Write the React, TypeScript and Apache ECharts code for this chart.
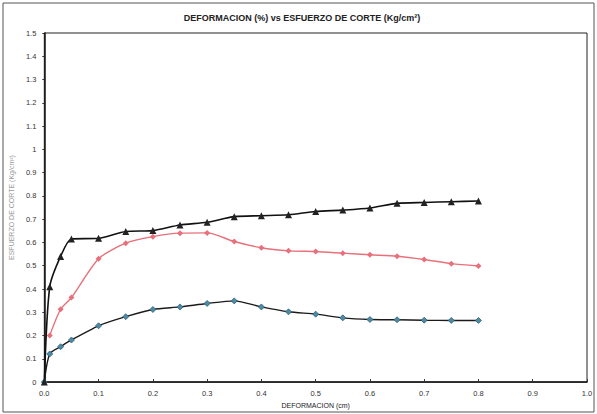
import React, { useEffect, useRef } from "react";
import * as echarts from "echarts";

const titleText = "DEFORMACION (%) vs ESFUERZO DE CORTE (Kg/cm²)";
const xTitle = "DEFORMACION (cm)";
const yTitle = "ESFUERZO DE CORTE (Kg/cm²)";

const blackX = [0, 0.01, 0.03, 0.05, 0.1, 0.15, 0.2, 0.25, 0.3, 0.35, 0.4, 0.45, 0.5, 0.55, 0.6, 0.65, 0.7, 0.75, 0.8];
const blackY = [0, 0.41, 0.54, 0.615, 0.618, 0.647, 0.651, 0.675, 0.687, 0.711, 0.715, 0.719, 0.733, 0.739, 0.748, 0.768, 0.772, 0.775, 0.778];

const redX = [0.01, 0.03, 0.05, 0.1, 0.15, 0.2, 0.25, 0.3, 0.35, 0.4, 0.45, 0.5, 0.55, 0.6, 0.65, 0.7, 0.75, 0.8];
const redY = [0.2, 0.313, 0.363, 0.53, 0.597, 0.625, 0.64, 0.641, 0.604, 0.577, 0.564, 0.561, 0.554, 0.547, 0.541, 0.527, 0.509, 0.499];

const blueX = [0, 0.01, 0.03, 0.05, 0.1, 0.15, 0.2, 0.25, 0.3, 0.35, 0.4, 0.45, 0.5, 0.55, 0.6, 0.65, 0.7, 0.75, 0.8];
const blueY = [0, 0.121, 0.152, 0.181, 0.242, 0.281, 0.312, 0.323, 0.338, 0.349, 0.323, 0.302, 0.292, 0.276, 0.269, 0.268, 0.266, 0.265, 0.265];

const zip = (xs: number[], ys: number[]) => xs.map((x, i) => [x, ys[i]]);

const FONT = "'Liberation Sans Narrow', 'Liberation Sans', Arial, sans-serif";

export default function App() {
  const ref = useRef<HTMLDivElement>(null);
  useEffect(() => {
    if (!ref.current) return;
    const chart = echarts.init(ref.current, null, { renderer: "svg" });
    chart.setOption({
      animation: false,
      backgroundColor: "#ffffff",
      title: {
        text: titleText,
        left: 297,
        top: 8,
        textAlign: "center",
        textStyle: { fontFamily: FONT, fontSize: 9, fontWeight: "bold", color: "#222" },
      },
      graphic: [
        {
          type: "rect",
          shape: { x: 3, y: 3, width: 591, height: 409 },
          style: { fill: "none", stroke: "#555", lineWidth: 1 },
          silent: true,
        },
      ],
      grid: {
        left: 42,
        right: 10,
        top: 33,
        bottom: 30,
        show: true,
        borderColor: "#222",
        borderWidth: 1,
        backgroundColor: "transparent",
      },
      xAxis: {
        type: "value",
        min: 0,
        max: 1,
        interval: 0.1,
        name: xTitle,
        nameLocation: "middle",
        nameGap: 19,
        nameTextStyle: { fontFamily: FONT, fontSize: 7, color: "#222" },
        axisLine: { show: true, lineStyle: { color: "#111", width: 1.5 } },
        axisTick: { show: true, inside: true, length: 3, lineStyle: { color: "#333" } },
        axisLabel: {
          fontFamily: FONT,
          fontSize: 7.5,
          color: "#333",
          margin: 7,
          formatter: (v: number) => v.toFixed(1),
        },
        splitLine: { show: false },
      },
      yAxis: {
        type: "value",
        min: 0,
        max: 1.5,
        interval: 0.1,
        name: yTitle,
        nameLocation: "middle",
        nameGap: 27,
        nameTextStyle: { fontFamily: FONT, fontSize: 7, color: "#999" },
        axisLine: { show: true, lineStyle: { color: "#111", width: 1.5 } },
        axisTick: { show: true, length: 2, lineStyle: { color: "#333" } },
        axisLabel: {
          fontFamily: FONT,
          fontSize: 7.5,
          color: "#333",
          margin: 8,
          formatter: (v: number) => String(Math.round(v * 10) / 10),
        },
        splitLine: { show: false },
      },
      series: [
        {
          type: "line",
          data: zip(blackX, blackY),
          symbol: "triangle",
          symbolSize: 7,
          lineStyle: { color: "#111", width: 1.6 },
          itemStyle: { color: "#222" },
          smooth: 0.25,
          z: 3,
        },
        {
          type: "line",
          data: zip(redX, redY),
          symbol: "diamond",
          symbolSize: 6,
          lineStyle: { color: "#e8707a", width: 1.4 },
          itemStyle: { color: "#e8707a" },
          smooth: 0.25,
        },
        {
          type: "line",
          data: zip(blueX, blueY),
          symbol: "diamond",
          symbolSize: 6,
          lineStyle: { color: "#1a1a1a", width: 1.4 },
          itemStyle: { color: "#4d8aa5", borderColor: "#2f5f76", borderWidth: 0.8 },
          smooth: 0.25,
          z: 2,
        },
      ],
    });
    return () => chart.dispose();
  }, []);
  return <div ref={ref} style={{ width: 597, height: 414, position: "absolute", left: 0, top: 0 }} />;
}
